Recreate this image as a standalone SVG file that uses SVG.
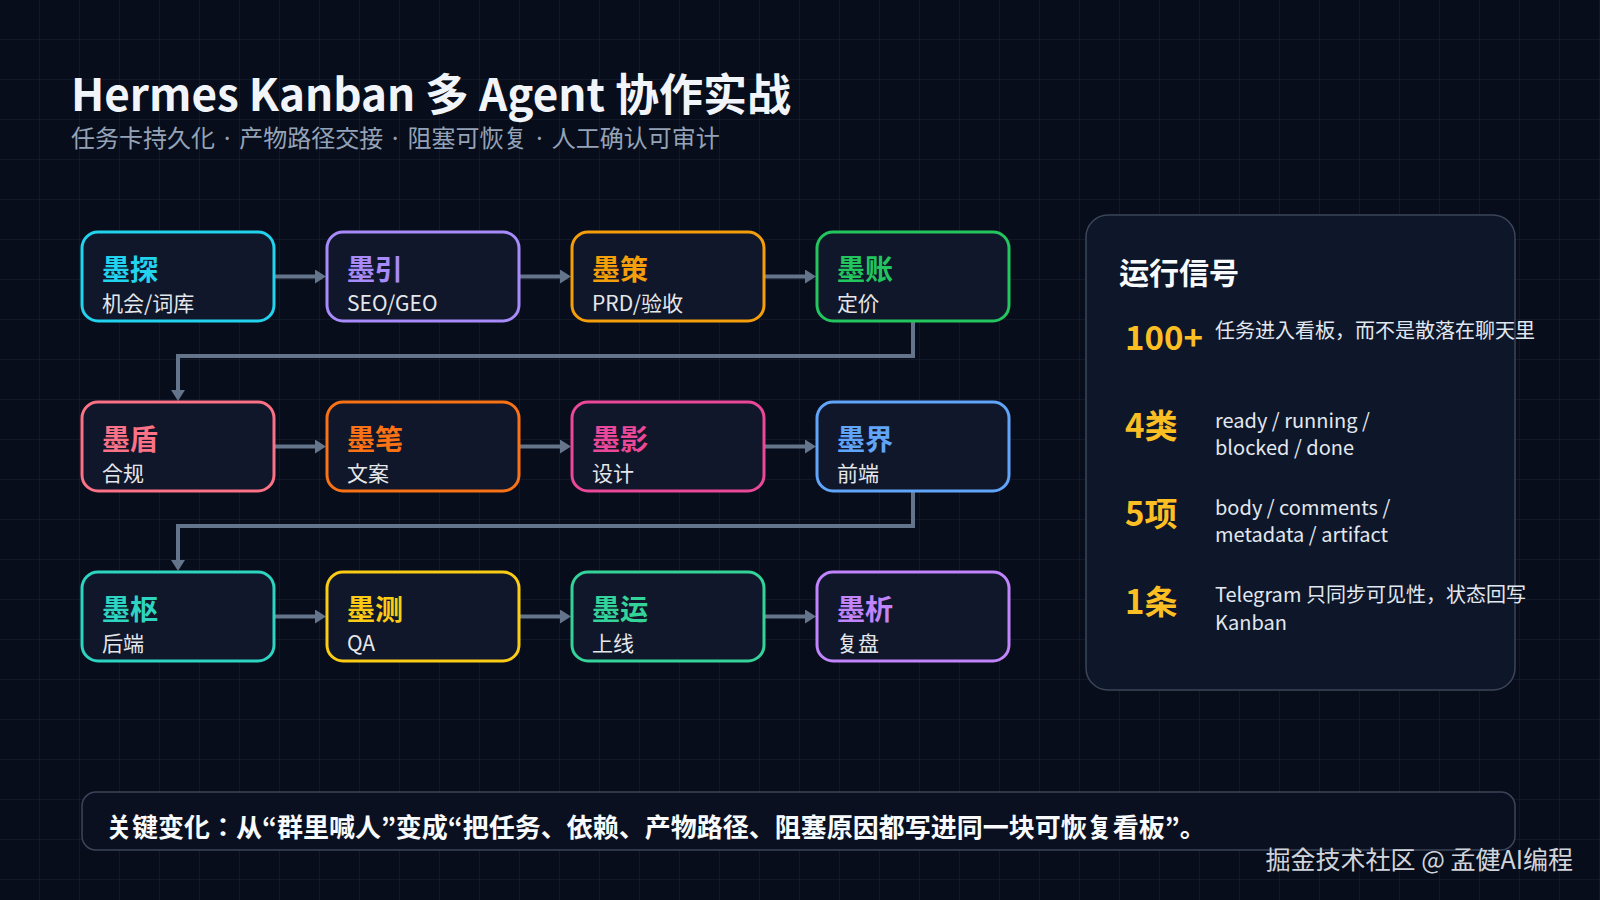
<svg xmlns="http://www.w3.org/2000/svg" width="1600" height="900" viewBox="0 0 1600 900">
<style>
  text { font-family: "Noto Sans CJK JP", "Noto Sans CJK SC", "Noto Sans", sans-serif; }
  .node rect { fill: #10172a; stroke-width: 3; }
  .nt { font-size: 28px; font-weight: 700; }
  .ns { font-size: 21px; fill: #e5e7eb; }
  .conn { fill: none; stroke: #64748b; stroke-width: 4; }
  .num { font-size: 33px; font-weight: 700; fill: #fbbf24; }
  .desc { font-size: 20px; fill: #e2e8f0; }
</style>
<defs>
  <pattern id="grid" width="40" height="40" patternUnits="userSpaceOnUse">
    <path d="M40 0 V40 M0 40 H40" fill="none" stroke="#1a2336" stroke-width="1"/>
  </pattern>
  <marker id="arr" markerWidth="11" markerHeight="14" refX="0" refY="7" orient="auto" markerUnits="userSpaceOnUse">
    <path d="M0,0 L11,7 L0,14 Z" fill="#64748b"/>
  </marker>
</defs>
<rect width="1600" height="900" fill="#080d1b"/>
<rect width="1600" height="900" fill="url(#grid)"/>

<g id="title">
  <text x="71" y="111" font-size="44" font-weight="700" fill="#f1f5f9">Hermes Kanban 多 Agent 协作实战</text>
  <text x="71" y="147" font-size="24" fill="#94a3b8">任务卡持久化 · 产物路径交接 · 阻塞可恢复 · 人工确认可审计</text>
</g>

<g id="connectors">
  <path class="conn" d="M274,276.5 H315" marker-end="url(#arr)"/>
  <path class="conn" d="M519,276.5 H560" marker-end="url(#arr)"/>
  <path class="conn" d="M764,276.5 H805" marker-end="url(#arr)"/>
  <path class="conn" d="M913,321 V356 H178 V390" marker-end="url(#arr)"/>
  <path class="conn" d="M274,446.5 H315" marker-end="url(#arr)"/>
  <path class="conn" d="M519,446.5 H560" marker-end="url(#arr)"/>
  <path class="conn" d="M764,446.5 H805" marker-end="url(#arr)"/>
  <path class="conn" d="M913,491 V526 H178 V560" marker-end="url(#arr)"/>
  <path class="conn" d="M274,616.5 H315" marker-end="url(#arr)"/>
  <path class="conn" d="M519,616.5 H560" marker-end="url(#arr)"/>
  <path class="conn" d="M764,616.5 H805" marker-end="url(#arr)"/>
</g>

<g id="n-motan" class="node"><rect x="82" y="232" width="192" height="89" rx="16" stroke="#22d3ee"/><text class="nt" x="102" y="280" fill="#22d3ee">墨探</text><text class="ns" x="102" y="311">机会/词库</text></g>
<g id="n-moyin" class="node"><rect x="327" y="232" width="192" height="89" rx="16" stroke="#a78bfa"/><text class="nt" x="347" y="280" fill="#a78bfa">墨引</text><text class="ns" x="347" y="311">SEO/GEO</text></g>
<g id="n-moce" class="node"><rect x="572" y="232" width="192" height="89" rx="16" stroke="#f59e0b"/><text class="nt" x="592" y="280" fill="#f59e0b">墨策</text><text class="ns" x="592" y="311">PRD/验收</text></g>
<g id="n-mozhang" class="node"><rect x="817" y="232" width="192" height="89" rx="16" stroke="#22c55e"/><text class="nt" x="837" y="280" fill="#22c55e">墨账</text><text class="ns" x="837" y="311">定价</text></g>

<g id="n-modun" class="node"><rect x="82" y="402" width="192" height="89" rx="16" stroke="#fb7185"/><text class="nt" x="102" y="450" fill="#fb7185">墨盾</text><text class="ns" x="102" y="481">合规</text></g>
<g id="n-mobi" class="node"><rect x="327" y="402" width="192" height="89" rx="16" stroke="#f97316"/><text class="nt" x="347" y="450" fill="#f97316">墨笔</text><text class="ns" x="347" y="481">文案</text></g>
<g id="n-moying" class="node"><rect x="572" y="402" width="192" height="89" rx="16" stroke="#ec4899"/><text class="nt" x="592" y="450" fill="#ec4899">墨影</text><text class="ns" x="592" y="481">设计</text></g>
<g id="n-mojie" class="node"><rect x="817" y="402" width="192" height="89" rx="16" stroke="#60a5fa"/><text class="nt" x="837" y="450" fill="#60a5fa">墨界</text><text class="ns" x="837" y="481">前端</text></g>

<g id="n-moshu" class="node"><rect x="82" y="572" width="192" height="89" rx="16" stroke="#2dd4bf"/><text class="nt" x="102" y="620" fill="#2dd4bf">墨枢</text><text class="ns" x="102" y="651">后端</text></g>
<g id="n-moce2" class="node"><rect x="327" y="572" width="192" height="89" rx="16" stroke="#facc15"/><text class="nt" x="347" y="620" fill="#facc15">墨测</text><text class="ns" x="347" y="651">QA</text></g>
<g id="n-moyun" class="node"><rect x="572" y="572" width="192" height="89" rx="16" stroke="#34d399"/><text class="nt" x="592" y="620" fill="#34d399">墨运</text><text class="ns" x="592" y="651">上线</text></g>
<g id="n-moxi" class="node"><rect x="817" y="572" width="192" height="89" rx="16" stroke="#c084fc"/><text class="nt" x="837" y="620" fill="#c084fc">墨析</text><text class="ns" x="837" y="651">复盘</text></g>

<g id="signals">
  <rect x="1086" y="215" width="429" height="475" rx="22" fill="#0e1629" stroke="#3b4558" stroke-width="1.5"/>
  <text x="1119" y="284" font-size="30" font-weight="700" fill="#f8fafc">运行信号</text>
  <text class="num" x="1125" y="350">100+</text>
  <text class="desc" x="1215" y="338">任务进入看板，而不是散落在聊天里</text>
  <text class="num" x="1125" y="438">4类</text>
  <text class="desc" x="1215" y="428">ready / running /</text>
  <text class="desc" x="1215" y="455">blocked / done</text>
  <text class="num" x="1125" y="526">5项</text>
  <text class="desc" x="1215" y="515">body / comments /</text>
  <text class="desc" x="1215" y="542">metadata / artifact</text>
  <text class="num" x="1125" y="614">1条</text>
  <text class="desc" x="1215" y="602">Telegram 只同步可见性，状态回写</text>
  <text class="desc" x="1215" y="630">Kanban</text>
</g>

<g id="summary">
  <rect x="82" y="792" width="1433" height="58" rx="14" fill="#0a1020" stroke="#3b4558" stroke-width="1.5"/>
  <text x="106" y="837" font-size="26" font-weight="700" fill="#f8fafc">关键变化：从“群里喊人”变成“把任务、依赖、产物路径、阻塞原因都写进同一块可恢复看板”。</text>
</g>

<text x="1573" y="869" font-size="25" fill="#d1d5db" text-anchor="end">掘金技术社区 @ 孟健AI编程</text>
</svg>
